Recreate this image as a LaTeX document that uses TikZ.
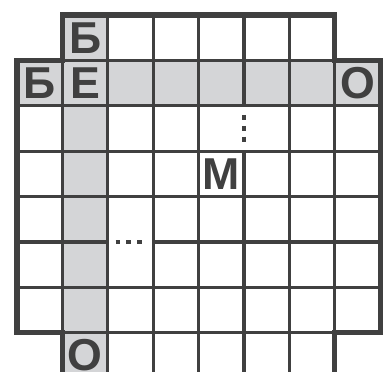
\documentclass[tikz,border=0pt]{standalone}
\usepackage{fontspec}
\setmainfont{Liberation Sans}
\usepackage{tikz}
\definecolor{inkcol}{RGB}{64,64,64}
\definecolor{shadecol}{RGB}{212,213,215}

\begin{document}
\begin{tikzpicture}[
  gridline/.style={draw=inkcol,line width=1.9pt},
  border/.style={draw=inkcol,line width=3.2pt},
  dots/.style={draw=inkcol,line width=1.9pt,dash pattern=on 0.11cm off 0.13cm},
  letter/.style={text=inkcol,inner sep=0pt,font=\bfseries\fontsize{28}{28}\selectfont},
]
\clip (-0.374,-7.86) rectangle (8.15,0.33);

% --- shaded answer cells ---
\fill[shadecol] (0,-1) rectangle (8,-2);
\fill[shadecol] (1,0) rectangle (2,-8.3);

% --- inner grid ---
\foreach \x in {2,3,4,6}
  \draw[gridline] (\x,0) -- (\x,-8.3);
\draw[gridline] (5,0) -- (5,-2) (5,-3) -- (5,-8.3);
\foreach \x in {1,7}
  \draw[gridline] (\x,-1) -- (\x,-7);
\foreach \y in {2,3,4,6}
  \draw[gridline] (0,-\y) -- (8,-\y);
\draw[gridline] (0,-5) -- (2,-5) (3,-5) -- (8,-5);
\foreach \y in {1,7}
  \draw[gridline] (1,-\y) -- (7,-\y);

% --- gaps in the word path ---
\draw[dots] (5,-2.2) -- (5,-2.8);
\draw[dots] (2.17,-5) -- (2.8,-5);

% --- outline ---
\draw[border] (1,-8.3) -- (1,-7) -- (0,-7) -- (0,-1) -- (1,-1) -- (1,0)
  -- (7,0) -- (7,-1) -- (8,-1) -- (8,-7) -- (7,-7) -- (7,-8.3);

% --- letters ---
\node[letter] (btop)   at (1.5,-0.5) {Б};
\node[letter] (bleft)  at (0.5,-1.5) {Б};
\node[letter] (e)      at (1.5,-1.5) {Е};
\node[letter] (oright) at (7.5,-1.5) {О};
\node[letter] (m)      at (4.5,-3.5) {М};
\node[letter] (obot)   at (1.5,-7.5) {О};
\end{tikzpicture}
\end{document}
